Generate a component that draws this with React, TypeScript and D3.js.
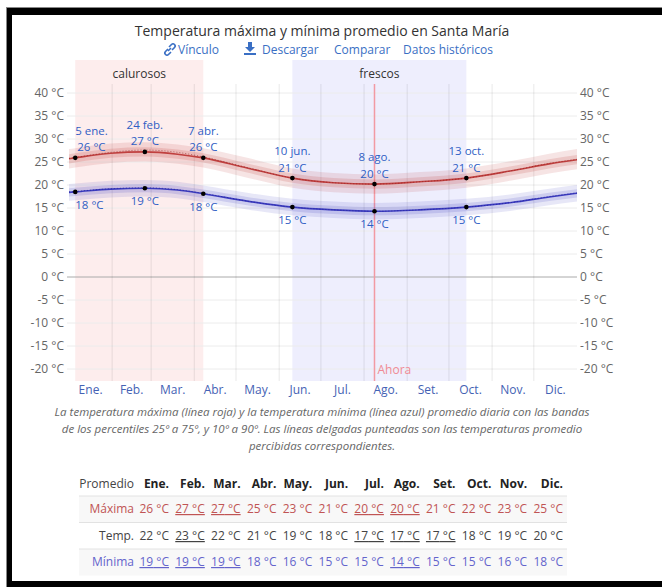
import * as d3 from 'd3';

const W = 662;
const H = 587;
const FONT = '"Open Sans", "Noto Sans", sans-serif';

// months, ticks
const MONTHS = ['Ene.', 'Feb.', 'Mar.', 'Abr.', 'May.', 'Jun.', 'Jul.', 'Ago.', 'Set.', 'Oct.', 'Nov.', 'Dic.'];
const MONTH_STARTS = [0, 31, 59, 90, 120, 151, 181, 212, 243, 273, 304, 334, 365];
const TEMP_TICKS = [-20, -15, -10, -5, 0, 5, 10, 15, 20, 25, 30, 35, 40];

// daily curves, read at these days of the year
const KNOT_DAYS = [0, 4.5, 30, 54.5, 78, 96.5, 128, 160.5, 190, 219.5, 252, 285.5, 318, 345, 365];
const MAX_AVG = [25.7, 25.9, 26.9, 27.2, 26.7, 25.9, 23.7, 21.5, 20.5, 20.2, 20.7, 21.5, 23.1, 24.6, 25.5];
const MAX_P90 = [27.8, 28.0, 29.0, 29.3, 28.8, 28.0, 25.9, 23.6, 22.6, 22.3, 22.8, 23.6, 25.2, 26.8, 27.8];
const MAX_P75 = [26.7, 26.9, 27.9, 28.2, 27.7, 26.9, 24.7, 22.5, 21.5, 21.2, 21.7, 22.5, 24.1, 25.6, 26.5];
const MAX_P25 = [24.7, 24.9, 25.9, 26.2, 25.7, 24.9, 22.7, 20.5, 19.5, 19.2, 19.7, 20.5, 22.1, 23.6, 24.5];
const MAX_P10 = [23.6, 23.8, 24.8, 25.1, 24.6, 23.8, 21.6, 19.4, 18.4, 18.1, 18.6, 19.4, 21.0, 22.5, 23.4];
const MAX_FEELS = [25.8, 26.0, 27.1, 27.6, 27.1, 26.1, 23.8, 21.5, 20.5, 20.2, 20.7, 21.5, 23.1, 24.7, 25.6];

const MIN_AVG = [18.4, 18.5, 19.1, 19.3, 18.9, 18.1, 16.5, 15.2, 14.6, 14.3, 14.6, 15.2, 16.2, 17.4, 18.2];
const MIN_P90 = [20.2, 20.3, 20.9, 21.1, 20.7, 19.9, 18.3, 17.0, 16.4, 16.1, 16.4, 17.0, 18.0, 19.2, 20.0];
const MIN_P75 = [19.3, 19.4, 20.0, 20.2, 19.8, 19.0, 17.4, 16.1, 15.5, 15.2, 15.5, 16.1, 17.1, 18.3, 19.1];
const MIN_P25 = [17.5, 17.6, 18.2, 18.4, 18.0, 17.2, 15.6, 14.3, 13.7, 13.4, 13.7, 14.3, 15.3, 16.5, 17.3];
const MIN_P10 = [16.6, 16.7, 17.3, 17.5, 17.1, 16.3, 14.7, 13.4, 12.8, 12.5, 12.8, 13.4, 14.4, 15.6, 16.4];
const MIN_FEELS = [18.5, 18.6, 19.2, 19.4, 19.0, 18.2, 16.5, 15.2, 14.6, 14.3, 14.6, 15.2, 16.2, 17.5, 18.3];

// highlighted days
const HIGHLIGHT_DAYS = [4.5, 54.5, 96.5, 160.5, 219.5, 285.5];
const HIGHLIGHT_DATES = ['5 ene.', '24 feb.', '7 abr.', '10 jun.', '8 ago.', '13 oct.'];
const HIGHLIGHT_MAX = ['26 °C', '27 °C', '26 °C', '21 °C', '20 °C', '21 °C'];
const HIGHLIGHT_MIN = ['18 °C', '19 °C', '18 °C', '15 °C', '14 °C', '15 °C'];

const SEASON_NAMES = ['calurosos', 'frescos'];
const SEASON_FROM = [4.5, 160.5];
const SEASON_TO = [96.5, 285.5];
const SEASON_FILL = ['#fdeded', '#eeeefd'];
const NOW_DAY = 219.5;

// table
const TABLE_MAX = [26, 27, 27, 25, 23, 21, 20, 20, 21, 22, 23, 25];
const TABLE_TEMP = [22, 23, 22, 21, 19, 18, 17, 17, 17, 18, 19, 20];
const TABLE_MIN = [19, 19, 19, 18, 16, 15, 15, 14, 15, 15, 16, 18];

const CAPTION = [
  'La temperatura máxima (línea roja) y la temperatura mínima (línea azul) promedio diaria con las bandas',
  'de los percentiles 25º a 75º, y 10º a 90º. Las líneas delgadas punteadas son las temperaturas promedio',
  'percibidas correspondientes.',
];

const RED = '#c0403f';
const BLUE = '#3c3cc0';
const LABEL_BLUE = '#2f5ec4';
const LINK_BLUE = '#3a6fc4';

export default function App() {
  const plotLeft = 69;
  const plotRight = 577;
  const x = d3.scaleLinear().domain([0, 365]).range([plotLeft, plotRight]);
  const y = d3.scaleLinear().domain([-20, 40]).range([369, 93]);

  const line = d3
    .line<number>()
    .x((_, i) => x(KNOT_DAYS[i]))
    .y((d) => y(d))
    .curve(d3.curveMonotoneX);

  const band = (lo: number[], hi: number[]) =>
    d3
      .area<number>()
      .x((_, i) => x(KNOT_DAYS[i]))
      .y0((_, i) => y(lo[i]))
      .y1((_, i) => y(hi[i]))
      .curve(d3.curveMonotoneX)(KNOT_DAYS) as string;

  const bandTop = 60;
  const bandBottom = 381;

  // table columns (right aligned)
  const col = d3.scaleLinear().domain([0, 11]).range([169, 563]);
  const rowLabelX = 134;
  const tableRows = [
    { name: 'Máxima', values: TABLE_MAX, color: '#c05454', y: 513, bg: '#f8f8f8' },
    { name: 'Temp.', values: TABLE_TEMP, color: '#444', y: 540, bg: '#ffffff' },
    { name: 'Mínima', values: TABLE_MIN, color: '#6464cc', y: 566, bg: '#f8f8f8' },
  ];

  return (
    <svg
      width={W}
      height={H}
      style={{ position: 'absolute', left: 0, top: 0, background: '#fff', fontFamily: FONT }}
    >
      {/* frame */}
      <rect x={6} y={7} width={W} height={H} fill="#888" />
      <rect x={7} y={8} width={W} height={H} fill="#000" />
      <rect x={12} y={15} width={W} height={566} fill="#fff" />

      {/* title + links */}
      <text x={322} y={36} textAnchor="middle" fontSize={14} fill="#333">
        Temperatura máxima y mínima promedio en Santa María
      </text>
      <g fontSize={12} fill={LINK_BLUE}>
        <g transform="translate(164,43)" stroke={LINK_BLUE} strokeWidth={1.6} fill="none">
          <path d="M4 6 L1.5 8.5 a2 2 0 0 0 3 3 L7 9" />
          <path d="M5 4 L7.5 1.5 a2 2 0 0 1 3 3 L8 7" />
          <path d="M4 8 L7 5" />
        </g>
        <text x={178} y={54}>Vínculo</text>
        <g transform="translate(244,42)" fill={LINK_BLUE}>
          <path d="M4 0 h4 v5 h3 l-5 5 l-5 -5 h3 z" />
          <rect x={0} y={11} width={12} height={2} />
        </g>
        <text x={262} y={54}>Descargar</text>
        <text x={334} y={54}>Comparar</text>
        <text x={403} y={54}>Datos históricos</text>
      </g>

      {/* season bands */}
      {SEASON_NAMES.map((name, i) => (
        <g key={name}>
          <rect
            x={x(SEASON_FROM[i])}
            y={bandTop}
            width={x(SEASON_TO[i]) - x(SEASON_FROM[i])}
            height={bandBottom - bandTop}
            fill={SEASON_FILL[i]}
          />
          <text
            x={(x(SEASON_FROM[i]) + x(SEASON_TO[i])) / 2}
            y={78}
            textAnchor="middle"
            fontSize={12}
            fill="#333"
          >
            {name}
          </text>
        </g>
      ))}

      {/* grid */}
      {TEMP_TICKS.map((t) => (
        <g key={t}>
          <line
            x1={plotLeft - 2}
            x2={plotRight}
            y1={y(t)}
            y2={y(t)}
            stroke={t === 0 ? '#aaa' : '#ececec'}
            strokeWidth={1}
          />
          <text x={64} y={y(t) + 4} textAnchor="end" fontSize={12} fill="#666">
            {t} °C
          </text>
          <text x={580} y={y(t) + 4} fontSize={12} fill="#666">
            {t} °C
          </text>
        </g>
      ))}
      {MONTH_STARTS.slice(1, 12).map((d) => (
        <line key={d} x1={x(d)} x2={x(d)} y1={84} y2={bandBottom} stroke="#000" strokeOpacity={0.09} />
      ))}
      {MONTHS.map((m, i) => (
        <text
          key={m}
          x={x((MONTH_STARTS[i] + MONTH_STARTS[i + 1]) / 2)}
          y={394}
          textAnchor="middle"
          fontSize={12}
          fill="#4462b4"
        >
          {m}
        </text>
      ))}

      {/* now marker */}
      <line x1={x(NOW_DAY)} x2={x(NOW_DAY)} y1={84} y2={bandBottom} stroke="#f29aa3" strokeWidth={1.5} />
      <text x={x(NOW_DAY) + 3} y={374} fontSize={12} fill="#f08a94">
        Ahora
      </text>

      {/* max series */}
      <path d={band(MAX_P10, MAX_P90)} fill={RED} fillOpacity={0.14} />
      <path d={band(MAX_P25, MAX_P75)} fill={RED} fillOpacity={0.18} />
      <path d={line(MAX_AVG) as string} fill="none" stroke={RED} strokeWidth={1.6} />
      <path d={line(MAX_FEELS) as string} fill="none" stroke="#902020" strokeWidth={1} strokeDasharray="1,2" strokeOpacity={0.6} />

      {/* min series */}
      <path d={band(MIN_P10, MIN_P90)} fill={BLUE} fillOpacity={0.12} />
      <path d={band(MIN_P25, MIN_P75)} fill={BLUE} fillOpacity={0.16} />
      <path d={line(MIN_AVG) as string} fill="none" stroke={BLUE} strokeWidth={1.6} />
      <path d={line(MIN_FEELS) as string} fill="none" stroke="#202090" strokeWidth={1} strokeDasharray="1,2" strokeOpacity={0.6} />

      {/* highlights */}
      {HIGHLIGHT_DAYS.map((day, i) => {
        const k = KNOT_DAYS.indexOf(day);
        const cx = x(day);
        const yMax = y(MAX_AVG[k]);
        const yMin = y(MIN_AVG[k]);
        const anchor = i === 0 ? 'start' : 'middle';
        return (
          <g key={day} fontSize={11.5} fill={LABEL_BLUE} textAnchor={anchor}>
            <circle cx={cx} cy={yMax} r={2.3} fill="#000" />
            <circle cx={cx} cy={yMin} r={2.3} fill="#000" />
            <text x={cx} y={yMax - 23}>{HIGHLIGHT_DATES[i]}</text>
            <text x={i === 0 ? cx + 2 : cx} y={yMax - 6.5}>{HIGHLIGHT_MAX[i]}</text>
            <text x={cx} y={yMin + 17}>{HIGHLIGHT_MIN[i]}</text>
          </g>
        );
      })}

      {/* caption */}
      {CAPTION.map((c, i) => (
        <text key={i} x={322} y={416 + i * 17} textAnchor="middle" fontSize={11.5} fontStyle="italic" fill="#666">
          {c}
        </text>
      ))}

      {/* table */}
      {tableRows.map((r, ri) => (
        <rect key={r.name} x={79} y={496 + ri * 26.5} width={488} height={26.5} fill={r.bg} />
      ))}
      {[496, 522.5, 549].map((ly) => (
        <line key={ly} x1={79} x2={567} y1={ly} y2={ly} stroke="#e2e2e2" />
      ))}
      <text x={rowLabelX} y={488} textAnchor="end" fontSize={12} fill="#444">
        Promedio
      </text>
      {MONTHS.map((m, i) => (
        <text key={m} x={col(i)} y={488} textAnchor="end" fontSize={12} fontWeight="bold" fill="#222">
          {m}
        </text>
      ))}
      {tableRows.map((r) => {
        const hi = d3.max(r.values) as number;
        const lo = d3.min(r.values) as number;
        return (
          <g key={r.name} fontSize={12} fill={r.color} textAnchor="end">
            <text x={rowLabelX} y={r.y}>{r.name}</text>
            {r.values.map((v, i) => (
              <text
                key={i}
                x={col(i)}
                y={r.y}
                style={{ textDecoration: v === hi || v === lo ? 'underline' : 'none' }}
              >
                {v} °C
              </text>
            ))}
          </g>
        );
      })}
    </svg>
  );
}
